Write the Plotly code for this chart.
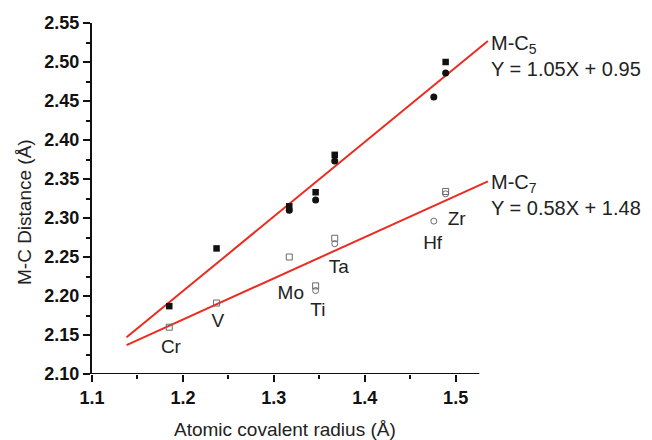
import plotly.graph_objects as go

# Data
elements = ["Cr", "V", "Mo", "Ti", "Ta", "Hf", "Zr"]
radius = {"Cr": 1.185, "V": 1.237, "Mo": 1.317, "Ti": 1.346, "Ta": 1.367, "Hf": 1.476, "Zr": 1.489}

c5_sq_el = ["Cr", "V", "Mo", "Ti", "Ta", "Zr"]
c5_sq_y = [2.187, 2.261, 2.315, 2.333, 2.381, 2.500]
c5_ci_el = ["Mo", "Ti", "Ta", "Hf", "Zr"]
c5_ci_y = [2.310, 2.323, 2.373, 2.455, 2.486]

c7_sq_el = ["Cr", "V", "Mo", "Ti", "Ta", "Zr"]
c7_sq_y = [2.160, 2.191, 2.250, 2.213, 2.274, 2.334]
c7_ci_el = ["Ti", "Ta", "Hf", "Zr"]
c7_ci_y = [2.207, 2.267, 2.296, 2.331]

fit_x = [1.138, 1.5355]
fit5_y = [2.147, 2.527]
fit7_y = [2.137, 2.347]

label_x = [1.1868, 1.2385, 1.3187, 1.3484, 1.3714, 1.4747, 1.5011]
label_y = [2.1327, 2.166, 2.2018, 2.1807, 2.2352, 2.2665, 2.2973]

eq_text = ["M-C<sub>5</sub><br>Y = 1.05X + 0.95", "M-C<sub>7</sub><br>Y = 0.58X + 1.48"]
eq_x = 1.537
eq_y = [2.5073, 2.3293]

x_title = "Atomic covalent radius (Å)"
y_title = "M-C Distance (Å)"

FONT = "Liberation Sans, Arial, sans-serif"
RED = "#ec2b20"
BLACK = "#111111"
GRAY = "#6a6a6a"
TXT = "#222222"

X0, X1 = 1.1, 1.54
Y0, Y1 = 2.10, 2.55

fig = go.Figure()
fig.add_trace(go.Scatter(x=fit_x, y=fit5_y, mode="lines", line=dict(color=RED, width=2)))
fig.add_trace(go.Scatter(x=fit_x, y=fit7_y, mode="lines", line=dict(color=RED, width=2)))

fig.add_trace(go.Scatter(x=[radius[e] for e in c5_ci_el], y=c5_ci_y, mode="markers",
                         marker=dict(symbol="circle", size=7, color=BLACK, line=dict(width=0))))
fig.add_trace(go.Scatter(x=[radius[e] for e in c5_sq_el], y=c5_sq_y, mode="markers",
                         marker=dict(symbol="square", size=6.5, color=BLACK, line=dict(width=0))))
fig.add_trace(go.Scatter(x=[radius[e] for e in c7_ci_el], y=c7_ci_y, mode="markers",
                         marker=dict(symbol="circle-open", size=6, color=GRAY, line=dict(width=1))))
fig.add_trace(go.Scatter(x=[radius[e] for e in c7_sq_el], y=c7_sq_y, mode="markers",
                         marker=dict(symbol="square-open", size=6, color=GRAY, line=dict(width=1))))

fig.add_trace(go.Scatter(x=label_x, y=label_y, mode="text", text=elements,
                         textfont=dict(family=FONT, size=19, color=TXT), cliponaxis=False))

# x-axis line (axis stops short of plot edge)
fig.add_shape(type="line", xref="x", yref="y", x0=1.1, x1=1.526, y0=2.10, y1=2.10,
              line=dict(color=BLACK, width=2))

for t, yy in zip(eq_text, eq_y):
    fig.add_annotation(x=(eq_x - X0) / (X1 - X0), y=(yy - Y0) / (Y1 - Y0),
                       xref="paper", yref="paper", align="left",
                       text=t, showarrow=False, xanchor="left", yanchor="middle",
                       font=dict(family=FONT, size=20, color=TXT))

# axis titles
fig.add_annotation(x=0.4825, y=-0.1567, xref="paper", yref="paper", text=x_title,
                   showarrow=False, xanchor="center", yanchor="middle",
                   font=dict(family=FONT, size=19, color=TXT))
fig.add_annotation(x=-0.17, y=0.4615, xref="paper", yref="paper", text=y_title,
                   showarrow=False, xanchor="center", yanchor="middle", textangle=-90,
                   font=dict(family=FONT, size=19, color=TXT))

fig.update_layout(
    width=652, height=440,
    margin=dict(l=92, r=160, t=23, b=66),
    paper_bgcolor="white", plot_bgcolor="white",
    showlegend=False,
    font=dict(family=FONT, color=BLACK),
)
fig.update_xaxes(
    range=[X0, X1], tick0=1.1, dtick=0.1, tickformat=".1f",
    showgrid=False, zeroline=False, showline=False,
    ticks="outside", ticklen=7, tickwidth=2, tickcolor=BLACK,
    tickfont=dict(family=FONT, size=18, color=BLACK, weight="bold"),
    minor=dict(ticks="outside", ticklen=4, tickwidth=2, tickcolor=BLACK, dtick=0.05, tick0=1.1, showgrid=False),
)
fig.update_yaxes(
    range=[Y0, Y1], tick0=2.10, dtick=0.05, tickformat=".2f",
    showgrid=False, zeroline=False, showline=True, linecolor=BLACK, linewidth=2,
    ticks="outside", ticklen=7, tickwidth=2, tickcolor=BLACK,
    tickfont=dict(family=FONT, size=18, color=BLACK, weight="bold"),
    minor=dict(ticks="outside", ticklen=4, tickwidth=2, tickcolor=BLACK, dtick=0.025, tick0=2.10, showgrid=False),
)

fig.write_html("out.html")
